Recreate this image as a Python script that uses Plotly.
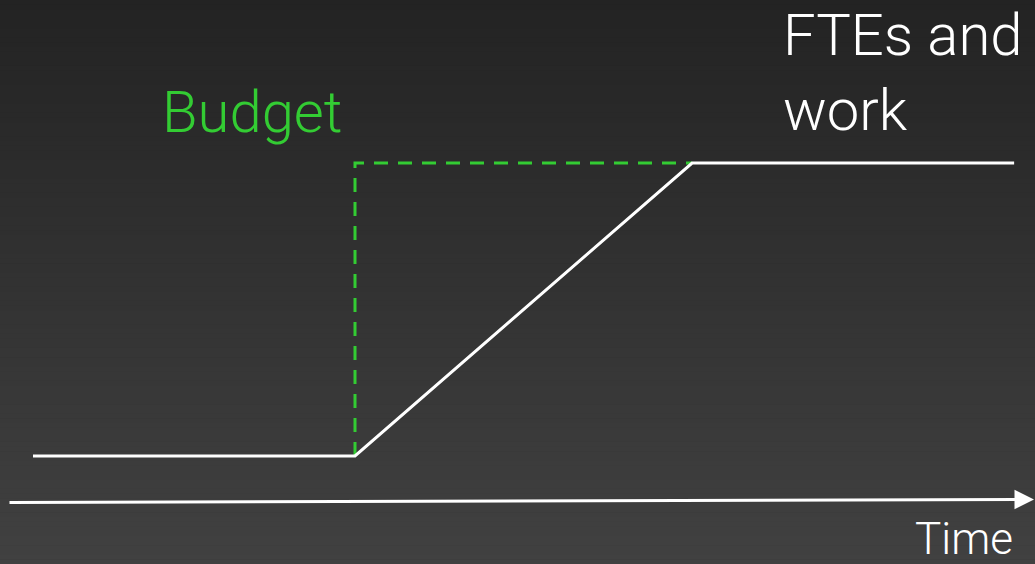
import plotly.graph_objects as go

# Data (conceptual units)
fte_time = [0, 10, 20.47, 30.47]
fte_level = [0, 0, 1, 1]
budget_time = [10, 10, 20.47]
budget_level = [0, 1, 1]

labels = {"budget": "Budget", "fte": "FTEs and<br>work", "time": "Time"}

W, H = 1035, 564
px_per_x = 32.2
x0_px = 33
px_per_y = 293
y0_px = 456

x_range = [-x0_px / px_per_x, (W - x0_px) / px_per_x]
y_range = [-(H - y0_px) / px_per_y, y0_px / px_per_y]

def px_to_x(p):
    return (p - x0_px) / px_per_x

def px_to_y(p):
    return (y0_px - p) / px_per_y

fig = go.Figure()

# background gradient bands
n = 120
top = (0x23, 0x23, 0x23)
bot = (0x41, 0x41, 0x41)
shapes = []
for i in range(n):
    t = i / (n - 1)
    c = tuple(round(top[k] + (bot[k] - top[k]) * t) for k in range(3))
    shapes.append(dict(type="rect", xref="paper", yref="paper",
                       x0=0, x1=1, y0=1 - (i + 1) / n - 0.001, y1=1 - i / n,
                       fillcolor="rgb(%d,%d,%d)" % c, line=dict(width=0),
                       layer="below"))

fig.add_trace(go.Scatter(x=budget_time, y=budget_level, mode="lines",
                         line=dict(color="#33cc33", width=3, dash="14px,10px"),
                         hoverinfo="skip", showlegend=False))
fig.add_trace(go.Scatter(x=fte_time, y=fte_level, mode="lines",
                         line=dict(color="#ffffff", width=3),
                         hoverinfo="skip", showlegend=False))

font_family = "Roboto"
annotations = [
    dict(x=160 / W, y=1 - 148 / H, xref="paper", yref="paper", text=labels["budget"],
         showarrow=False, xanchor="left", yanchor="bottom",
         font=dict(family=font_family, size=58, color="#33cc33", weight=300)),
    dict(x=781 / W, y=1 - 146 / H, xref="paper", yref="paper", text=labels["fte"],
         showarrow=False, xanchor="left", yanchor="bottom", align="left",
         font=dict(family=font_family, size=58, color="#ffffff", weight=300)),
    dict(x=1015 / W, y=-3 / H, xref="paper", yref="paper", text=labels["time"],
         showarrow=False, xanchor="right", yanchor="bottom",
         font=dict(family=font_family, size=44, color="#ffffff", weight=300)),
    # time axis arrow
    dict(x=px_to_x(1034), y=px_to_y(499.5), ax=px_to_x(8), ay=px_to_y(502.5),
         xref="x", yref="y", axref="x", ayref="y", text="", showarrow=True,
         arrowhead=2, arrowsize=1.3, arrowwidth=3, arrowcolor="#ffffff"),
]

fig.update_layout(
    width=W, height=H,
    margin=dict(l=0, r=0, t=0, b=0),
    paper_bgcolor="#2e2e2e", plot_bgcolor="rgba(0,0,0,0)",
    xaxis=dict(range=x_range, visible=False, fixedrange=True),
    yaxis=dict(range=y_range, visible=False, fixedrange=True),
    shapes=shapes, annotations=annotations, showlegend=False,
)

fig.write_html("out.html", config={"displayModeBar": False},
               post_script="document.body.style.margin='0';document.body.style.overflow='hidden';")
